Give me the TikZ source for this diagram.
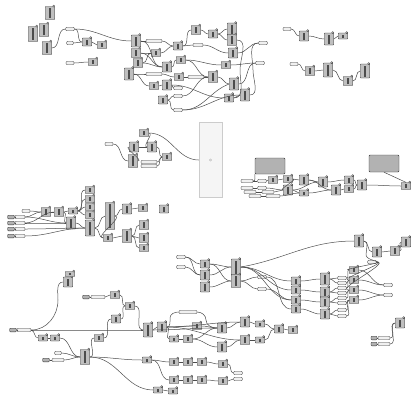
\documentclass[tikz,border=0pt]{standalone}
\usetikzlibrary{calc}
\tikzset{
  comp/.style={draw=gray!35!black,fill=gray!50,line width=0.25pt,inner xsep=3.4pt,inner ysep=1.5pt,minimum width=9.5pt,rounded corners=0.6pt},
  panel/.style={draw=gray!50!black,fill=gray!12,line width=0.3pt,inner sep=0pt,minimum height=3.6pt,rounded corners=1.2pt},
  dpanel/.style={draw=gray!40!black,fill=gray!60,line width=0.4pt,inner sep=0pt,rounded corners=1pt},
  wire/.style={draw=gray!60!black,line width=0.5pt},
  knob/.style={fill=gray!55,draw=gray!40!black,line width=0.2pt},
}
\newcommand\gc[3]{\node[comp] (#1) at (#2) {\textcolor{black!70}{\rule{2.4pt}{\dimexpr#3pt-3pt\relax}}};
  \draw[knob] ([xshift=-1.2pt,yshift=0.3pt]#1.north east) circle (1.1pt);}
\newcommand\gp[3]{\node[panel,minimum width=#3pt] (#1) at (#2) {};}
\newcommand\gw[2]{\draw[wire] (#1.east) to[out=0,in=180] (#2.west);}
\begin{document}
\begin{tikzpicture}[x=1pt,y=-1pt]
\useasboundingbox (0,0) rectangle (412,397);
% ---------- cluster A ----------
\gc{a1}{50,13}{13}\gc{a2}{33,34}{15}\gc{a3}{44,30}{13}\gc{a4}{47,48}{13}
\gp{ap1}{70,29}{9}\gc{a5}{87,42}{8}\gp{ap2}{70,43}{7}\gc{a6}{102,45}{7}
\gp{ap3}{70,63}{8}\gc{a7}{93,62}{7}
% ---------- cluster B ----------
\gc{b1}{136,41}{12}\gp{bp1}{154,41}{16}\gc{b2}{136,53}{9}\gc{b3}{156,53}{7}
\gc{b4}{178,46}{8}\gc{b5}{138,63}{9}\gc{b6}{129,74}{12}\gp{bp2}{154,74}{16}
\gc{b7}{167,67}{10}\gc{b8}{181,60}{7}\gc{b9}{179,77}{7}\gp{bp3}{196,77}{16}
\gc{b10}{154,86}{7}\gc{b11}{167,85}{10}\gp{bp4}{178,88}{9}\gc{b12}{163,100}{8}
\gp{bp5}{178,96}{9}\gp{bp6}{178,110}{9}\gc{b13}{196,30}{9}\gp{bp7}{198,45}{10}
\gc{b14}{213,34}{8}\gc{b15}{232,29}{12}\gc{b16}{232,40}{11}\gc{b17}{233,53}{10}
\gp{bp8}{263,43}{9}\gc{b18}{226,65}{7}\gp{bp9}{260,63}{9}\gc{b19}{213,77}{11}
\gc{b20}{234,84}{12}\gc{b21}{229,98}{8}\gc{b22}{245,95}{12}
% ---------- cluster C ----------
\gp{cp1}{287,29}{8}\gc{c1}{304,36}{10}\gc{c2}{329,39}{12}\gc{c3}{343,36}{6}
\gp{cp2}{294,64}{8}\gc{c4}{310,71}{9}\gc{c5}{328,70}{14}\gc{c6}{348,81}{9}\gc{c7}{365,71}{14}
% ---------- cluster D ----------
\gc{d1}{144,133}{7}\gp{dp1}{109,144}{8}\gc{d2}{134,147}{10}\gc{d3}{152,147}{10}
\gc{d4}{167,157}{7}\gc{d5}{133,161}{13}\gp{dp2}{149,162}{16}\gp{dp3}{149,166}{16}
\node[draw=gray!40,fill=gray!8,line width=0.4pt,minimum width=23pt,minimum height=75pt,inner sep=0pt] (bigR) at (210.5,160) {};
\node[draw=gray!60,circle,inner sep=0pt,minimum size=2.2pt] (bigC) at (bigR.center) {};
% ---------- cluster E ----------
\node[dpanel,minimum width=30pt,minimum height=16pt] (gp1) at (270,166) {};
\node[dpanel,minimum width=30pt,minimum height=17pt] (gp2) at (384,163.5) {};
\gp{ep1}{247,181}{12}\gp{ep2}{262,181}{9}\gp{ep3}{247,188}{12}\gp{ep4}{262,188}{9}
\gp{ep5}{250,192}{12}\gp{ep6}{268,192}{12}\gp{ep7}{255,196}{12}\gp{ep8}{273,196}{14}
\gc{e1}{273,180}{7}\gc{e2}{288,179}{7}\gc{e3}{304,180}{10}\gc{e4}{323,182}{10}
\gc{e5}{336,190}{10}\gc{e6}{349,180}{8}\gc{e7}{349,189}{7}\gc{e8}{362,185}{10}
\gc{e9}{288,190}{10}\gc{e10}{304,193}{6}\gc{e11}{406,186}{7}
% ---------- cluster F ----------
\gc{ff1}{90,190}{7}\gc{ff2}{90,199}{7}\gc{ff3}{90,207}{7}\gc{ff4}{90,215}{7}
\gp{fp0}{26,211}{8}
\node[dpanel,minimum width=7pt,minimum height=3.6pt] (fl1) at (11,217) {};
\node[dpanel,minimum width=7pt,minimum height=3.6pt] (fl2) at (11,223) {};
\node[dpanel,minimum width=7pt,minimum height=3.6pt] (fl3) at (11,229) {};
\node[dpanel,minimum width=7pt,minimum height=3.6pt] (fl4) at (11,236) {};
\gp{fp1}{20,217}{10}\gp{fp2}{20,223}{10}\gp{fp3}{20,229}{10}\gp{fp4}{20,236}{10}
\gc{f1}{46,212}{9}\gc{f2}{59,212}{9}\gc{f3}{73,211}{6}\gc{f4}{71,223}{12}
\gc{f5}{90,228}{16}\gc{f6}{110,216}{27}\gc{f7}{127,209}{10}\gc{f8}{143,208}{7}
\gc{f9}{164,209}{8}\gc{f10}{108,238}{7}\gc{f11}{127,236}{13}\gc{f12}{144,225}{9}
\gc{f13}{144,238}{9}\gc{f14}{144,248}{7}
% ---------- cluster G ----------
\gp{gpa}{181,257}{9}\gp{gpb}{181,267}{9}
\gc{g1}{205,264}{8}\gc{g2}{205,275}{10}\gc{g3}{205,287}{10}
\gc{g4}{236,267}{16}\gc{g5}{236,281}{13}\gp{gp3}{262,277}{9}\gp{gp4}{262,289}{9}
\gc{g6}{296,281}{8}\gc{g7}{296,290}{8}\gc{g8}{296,300}{8}\gc{g9}{296,309}{8}
\gc{g10}{325,279}{12}\gc{g11}{325,292}{10}\gc{g12}{325,302}{10}\gc{g13}{325,314}{10}
\gp{gl1}{342,278}{9}\gp{gl2}{342,283}{9}\gp{gl3}{342,288}{9}\gp{gl4}{342,293}{9}
\gp{gl5}{342,298}{9}\gp{gl6}{342,303}{9}\gp{gl7}{342,310}{9}\gp{gl8}{342,316}{9}
\gc{g14}{354,270}{7}\gc{g15}{354,280}{7}\gc{g16}{354,290}{7}\gc{g17}{354,300}{7}
\gp{gp5}{372,262}{9}
\gc{g18}{359,241}{12}\gc{g19}{377,252}{10}\gc{g20}{395,251}{9}\gc{g21}{406,242}{10}
\gp{gp6}{388,285}{9}\gp{gp7}{388,295}{9}
\gc{g22}{400,323}{10}
\node[dpanel,minimum width=6pt,minimum height=3.6pt] (grl1) at (374,338) {};
\node[dpanel,minimum width=6pt,minimum height=3.6pt] (grl2) at (374,344) {};
\gp{grp1}{384,338}{12}\gp{grp2}{384,344}{12}
% ---------- cluster H ----------
\gc{h1}{68,282}{10}\gc{h1b}{70,274}{5}
\node[dpanel,minimum width=7pt,minimum height=3.6pt] (hl1) at (86,297) {};
\gp{hp1}{98,297}{14}
\gc{h2}{115,295}{7}\gc{h3}{130,306}{7}\gc{h4}{116,319}{8}\gc{h5}{148,330}{14}\gc{h6}{162,327}{10}
\node[dpanel,minimum width=7pt,minimum height=3.6pt] (hl0) at (13,330) {};
\gp{hp0}{24,330}{14}
\gc{h7}{43,338}{6}\gc{h8}{55,338}{6}\gc{h9}{99,338}{7}
\gp{hp2}{58,353}{7}
\node[dpanel,minimum width=7pt,minimum height=3.6pt] (hl3) at (46,360) {};
\gp{hp3}{58,360}{12}
\gc{h10}{85,357}{15}
\gp{hp4}{188,312}{18}
\gc{h11}{197,326}{7}\gc{h12}{174,339}{6}\gc{h13}{188,339}{7}
\gc{h14}{222,328}{10}\gc{h15}{222,347}{10}\gc{h16}{245,322}{10}\gc{h17}{245,340}{9}
\gc{h18}{260,324}{6}\gc{h19}{260,340}{6}\gc{h20}{279,329}{8}\gc{h21}{293,330}{7}
\gc{h22}{147,360}{6}
\gc{h23}{174,362}{7}\gc{h24}{188,362}{7}\gc{h25}{202,362}{7}\gc{h26}{223,364}{7}
\gc{h27}{174,380}{7}\gc{h28}{188,380}{7}\gc{h29}{202,380}{7}\gc{h30}{223,381}{7}
\gp{hp5}{238,373}{9}\gp{hp6}{238,379}{9}
\gc{h31}{158,390}{6}\gc{h32}{173,391}{6}
% ================= wires =================
\gw{a4}{ap1}\gw{ap1}{b1}\gw{ap1}{a5}\gw{ap2}{a5}\gw{a5}{a6}\gw{ap3}{a7}
\gw{b1}{bp1}\gw{bp1}{b4}\gw{b2}{b3}\gw{b3}{b4}\gw{b5}{b7}\gw{b6}{bp2}\gw{bp2}{b9}
\gw{b9}{bp3}\gw{b7}{b8}\gw{b6}{b10}\gw{b10}{b11}\gw{b11}{bp4}\gw{b12}{bp5}
\gw{b4}{b13}\gw{b13}{b14}\gw{b14}{b15}\gw{b14}{b16}\gw{b17}{bp8}\gw{b18}{bp9}
\gw{b8}{b18}\gw{bp3}{b19}\gw{b19}{b20}\gw{b21}{b22}\gw{bp6}{b22}\gw{b5}{b3}
\gw{b2}{b7}\gw{b4}{bp7}\gw{bp7}{b17}\gw{b1}{b7}\gw{b8}{b19}\gw{b11}{b21}
\draw[wire] (b22.east) to[out=0,in=-90] (253,70) to[out=90,in=180] (bp8.west);
\draw[wire] (b20.east) to[out=0,in=180] (bp9.west);
\draw[wire] (bp6.east) to[out=0,in=200] (b20.west);
\draw[wire] (b16.east) to[out=0,in=90] (240,70) to[out=-90,in=0] (b21.east);
\draw[wire] (bp5.east) to[out=0,in=180] (b19.west);
\gw{b12}{bp6}
\gw{cp1}{c1}\gw{c1}{c2}\gw{c2}{c3}\gw{cp2}{c4}\gw{c4}{c5}\gw{c5}{c6}\gw{c6}{c7}
\draw[wire] (d1.east) to[out=0,in=180] (bigR.west);
\draw[wire] (dp1.east) to[out=0,in=180] (d5.west);
\gw{d2}{d3}\gw{d3}{d4}\gw{dp2}{d4}\gw{dp3}{d4}\gw{d5}{d2}\gw{d1}{d3}
\gw{ep2}{e1}\gw{e1}{e2}\gw{e2}{e3}\gw{e3}{e4}\gw{e4}{e6}\gw{e6}{e8}\gw{e8}{e11}
\gw{e9}{e10}\gw{e10}{e5}\gw{e5}{e7}\gw{e7}{e8}\gw{ep4}{e9}\gw{ep6}{e9}\gw{ep8}{e10}
\gw{ep1}{ep2}\gw{ep3}{ep4}\gw{ep5}{ep6}\gw{ep7}{ep8}\gw{e2}{e9}\gw{e3}{e5}\gw{e9}{e4}
\draw[wire] (gp2.south) -- (e11.north);
\draw[wire] (gp1.south west) to[out=-90,in=0] (ep1.east);
\gw{fp0}{f1}\gw{f1}{f2}\gw{f2}{f3}\gw{f3}{ff1}\gw{f3}{ff2}\gw{f3}{ff3}\gw{f3}{ff4}
\gw{fp1}{f1}\gw{fp2}{f4}\gw{fp3}{f5}\gw{fp4}{f5}\gw{f2}{f4}\gw{f4}{f5}\gw{f5}{f6}
\gw{f6}{f7}\gw{f7}{f8}\gw{f6}{f10}\gw{f10}{f11}\gw{f11}{f12}\gw{f11}{f13}\gw{f11}{f14}
\gw{f5}{f10}\gw{fp1}{f4}\gw{fp2}{f2}\gw{fl1}{fp1}\gw{fl2}{fp2}\gw{fl3}{fp3}\gw{fl4}{fp4}
\gw{gpa}{g1}\gw{gpb}{g2}\gw{g1}{g4}\gw{g2}{g4}\gw{g3}{g5}
\draw[wire] (g4.east) to[out=10,in=180] (g18.west);
\gw{g4}{g6}\gw{g4}{g7}\gw{g4}{g8}\gw{g5}{gp3}\gw{g5}{gp4}\gw{gp3}{g9}\gw{gp4}{g8}
\gw{g6}{g10}\gw{g7}{g11}\gw{g8}{g12}\gw{g9}{g13}
\gw{g10}{gl1}\gw{g10}{gl2}\gw{g11}{gl3}\gw{g11}{gl4}\gw{g12}{gl5}\gw{g12}{gl6}\gw{g13}{gl7}\gw{g13}{gl8}
\gw{gl1}{g14}\gw{gl3}{g15}\gw{gl5}{g16}\gw{gl7}{g17}\gw{gl2}{g15}\gw{gl4}{g16}\gw{gl6}{g17}\gw{gl8}{g17}
\gw{g14}{gp6}\gw{g15}{gp6}\gw{g16}{gp7}\gw{g17}{gp7}\gw{gp5}{g14}\gw{gp5}{g15}\gw{gp5}{g16}
\gw{g18}{g19}\gw{g19}{g20}\gw{g20}{g21}
\draw[wire] (g18.east) to[out=0,in=90] (366,255) to[out=-90,in=0] (gp5.east);
\gw{grp1}{g22}\gw{grp2}{g22}\gw{gpa}{g2}\gw{g1}{g5}\gw{grl1}{grp1}\gw{grl2}{grp2}
\draw[wire] (hp0.east) to[out=0,in=-90] (58,300) to[out=90,in=180] (h1.west);
\draw[wire] (hp0.east) to[out=0,in=180] (h5.west);
\draw[wire] (hp0.east) to[out=-10,in=180] (h7.west);
\gw{h7}{h8}\gw{h8}{h10}\gw{hp2}{h10}\gw{hp3}{h10}\gw{h10}{h9}\gw{h9}{h4}\gw{h4}{h3}
\gw{hp1}{h2}\gw{h2}{h3}\gw{h3}{h5}\gw{h5}{h6}\gw{h6}{h11}\gw{h6}{h12}\gw{h12}{h13}
\gw{h13}{h14}\gw{h11}{h14}\gw{h14}{h16}\gw{h15}{h17}\gw{h13}{h15}\gw{h16}{h18}\gw{h17}{h19}
\gw{h18}{h20}\gw{h19}{h20}\gw{h20}{h21}\gw{h10}{h22}\gw{h22}{h23}\gw{h23}{h24}\gw{h24}{h25}
\gw{h25}{h26}\gw{h22}{h27}\gw{h27}{h28}\gw{h28}{h29}\gw{h29}{h30}\gw{h26}{hp5}\gw{h30}{hp6}
\gw{h10}{h31}\gw{h31}{h32}\gw{h6}{h17}\gw{h6}{h16}\gw{hl1}{hp1}\gw{hl0}{hp0}\gw{hl3}{hp3}
\draw[wire] (h6.east) to[out=0,in=-90] (170,318) to[out=90,in=180] (hp4.west);
\draw[wire] (hp4.east) to[out=0,in=90] (206,320) to[out=-90,in=180] (h14.west);
\draw[wire] (h5.east) to[out=0,in=180] (h14.west);
\end{tikzpicture}
\end{document}
